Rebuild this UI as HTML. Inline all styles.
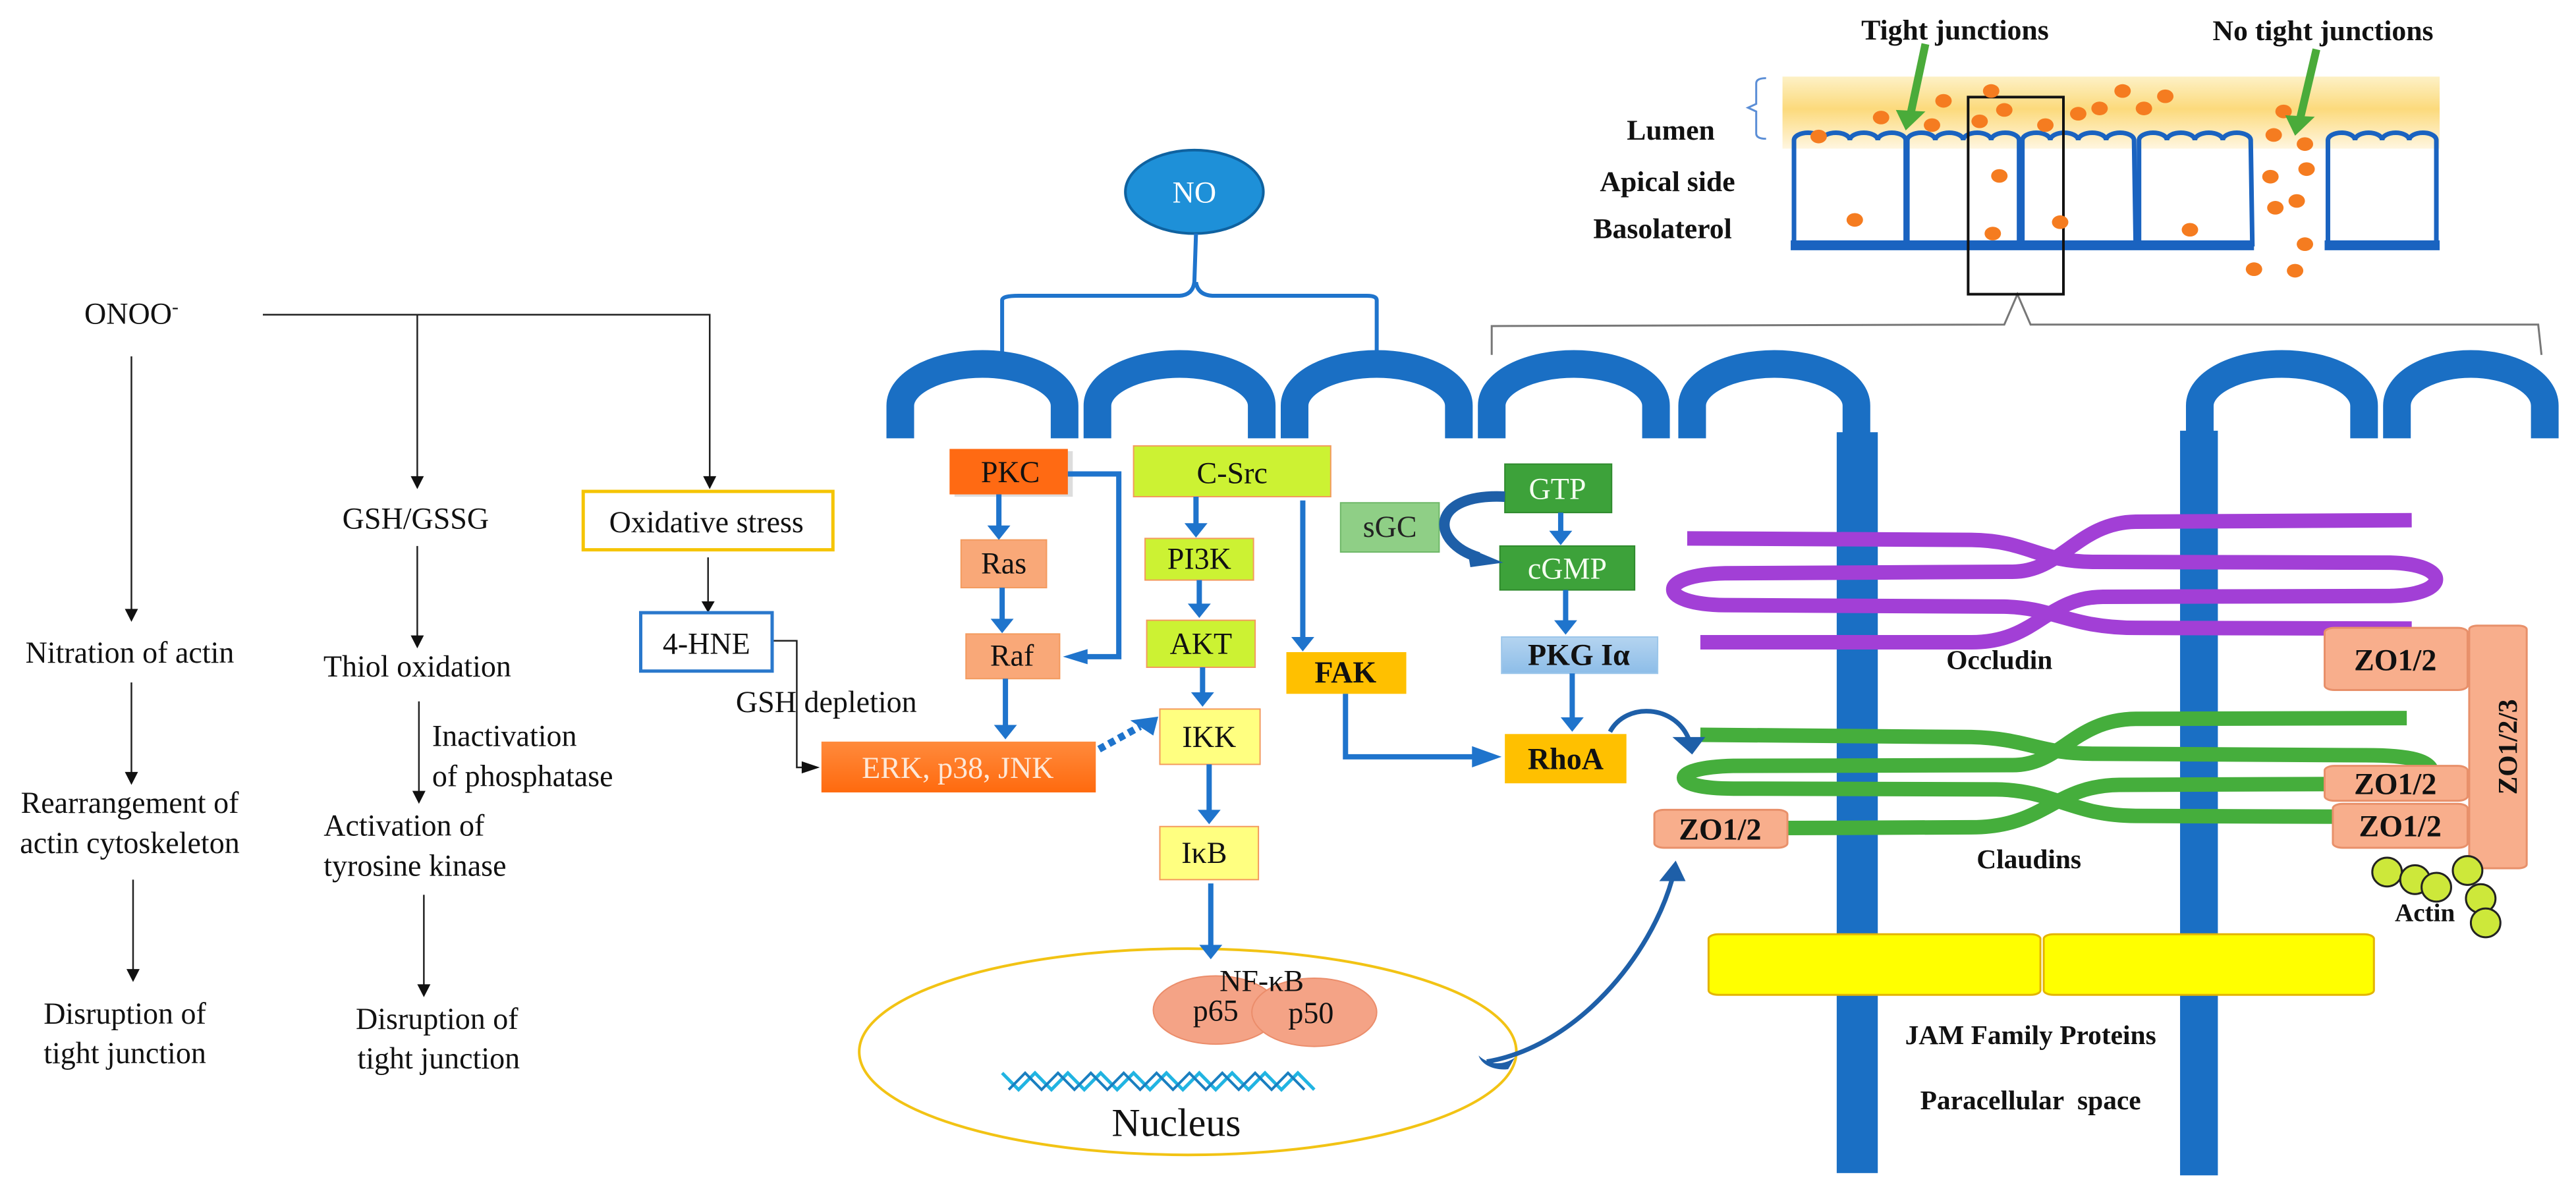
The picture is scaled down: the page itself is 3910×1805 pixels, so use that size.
<!DOCTYPE html>
<html><head><meta charset="utf-8"><style>
html,body{margin:0;padding:0;background:#fff;}
svg{display:block;}
svg text{font-family:"Liberation Serif","Times New Roman","DejaVu Serif",serif;fill:#111;}
.b{font-weight:bold;}
.th{stroke:#222;fill:none;stroke-width:2.5;}
.bl{stroke:#1f74cc;fill:none;stroke-width:8;}
.box{stroke:#f39a5e;stroke-width:2;}
</style></head><body>
<svg width="3910" height="1805" viewBox="0 0 1568 1568" preserveAspectRatio="none" xmlns="http://www.w3.org/2000/svg" font-family="Liberation Serif, Times New Roman, serif">
<defs>
<linearGradient id="lum" x1="0" y1="0" x2="0" y2="1">
<stop offset="0" stop-color="#fdf1c6"/><stop offset="0.45" stop-color="#fcda7c"/><stop offset="1" stop-color="#fff6e0"/>
</linearGradient>
<linearGradient id="erk" x1="0" y1="0" x2="0" y2="1">
<stop offset="0" stop-color="#ff8a3c"/><stop offset="1" stop-color="#ff6a0e"/>
</linearGradient>
<linearGradient id="pkg" x1="0" y1="0" x2="0" y2="1">
<stop offset="0" stop-color="#b4d4f0"/><stop offset="1" stop-color="#8dbde8"/>
</linearGradient>
</defs>
<g>
<g class="th">
<path vector-effect="non-scaling-stroke" d="M160,415 L432,415 L432,640"/>
<path vector-effect="non-scaling-stroke" d="M254,415 L254,630"/>
<path vector-effect="non-scaling-stroke" d="M80,470 L80,805"/>
<path vector-effect="non-scaling-stroke" d="M80,900 L80,1020"/>
<path vector-effect="non-scaling-stroke" d="M81,1160 L81,1280"/>
<path vector-effect="non-scaling-stroke" d="M254,720 L254,840"/>
<path vector-effect="non-scaling-stroke" d="M255,925 L255,1045"/>
<path vector-effect="non-scaling-stroke" d="M258,1180 L258,1300"/>
<path vector-effect="non-scaling-stroke" d="M431,735 L431,795"/>
<path vector-effect="non-scaling-stroke" d="M470,845 L485,845 L485,1012 L490,1012"/>
</g>
<g fill="#111">
<polygon points="428,628 436,628 432,645"/>
<polygon points="250,628 258,628 254,645"/>
<polygon points="76,803 84,803 80,820"/>
<polygon points="76,1018 84,1018 80,1035"/>
<polygon points="77,1278 85,1278 81,1295"/>
<polygon points="250,838 258,838 254,855"/>
<polygon points="251,1043 259,1043 255,1060"/>
<polygon points="254,1298 262,1298 258,1315"/>
<polygon points="427,793 435,793 431,808"/>
<polygon points="488,1004 488,1020 499,1012"/>
</g>
<rect x="355" y="648" width="152" height="77" fill="#fff" stroke="#f5c400" stroke-width="5" vector-effect="non-scaling-stroke"/>
<rect x="390" y="808" width="80" height="77" fill="#fff" stroke="#2a78cc" stroke-width="5" vector-effect="non-scaling-stroke"/>

<ellipse cx="727" cy="253" rx="42" ry="55" fill="#1e90d8" stroke="#0f62a0" stroke-width="4" vector-effect="non-scaling-stroke"/>
<path vector-effect="non-scaling-stroke" d="M610,470 L610,396 Q610,390 620,390 L718,390 Q726,389 727,372 L728,308 M728,372 Q729,389 738,390 L832,390 Q838,390 838,396 L838,470" stroke="#1f74cc" stroke-width="6" fill="none"/>
<path vector-effect="non-scaling-stroke" d="M908,468 L908,430 L1220,428 L1228,388 L1236,428 L1545,428 L1547,468" stroke="#777" stroke-width="3" fill="none"/>

<g stroke="#1a6fc4" stroke-width="42" fill="none">
<path vector-effect="non-scaling-stroke" d="M548,578 L548,535 A50,55 0 0 1 648,535 L648,578"/>
<path vector-effect="non-scaling-stroke" d="M668,578 L668,535 A50,55 0 0 1 768,535 L768,578"/>
<path vector-effect="non-scaling-stroke" d="M788,578 L788,535 A50,55 0 0 1 888,535 L888,578"/>
<path vector-effect="non-scaling-stroke" d="M908,578 L908,535 A50,55 0 0 1 1008,535 L1008,578"/>
<path vector-effect="non-scaling-stroke" d="M1030,578 L1030,535 A50,55 0 0 1 1130,535 L1130,578"/>
<path vector-effect="non-scaling-stroke" d="M1339,578 L1339,535 A50,55 0 0 1 1439,535 L1439,578"/>
<path vector-effect="non-scaling-stroke" d="M1459,578 L1459,535 A45,55 0 0 1 1549,535 L1549,578"/>
</g>
<rect x="1118" y="570" width="25" height="977" fill="#1a6fc4"/>
<rect x="1327" y="568" width="23" height="982" fill="#1a6fc4"/>

<rect x="1040" y="1232" width="202" height="80" rx="6" fill="#ffff00" stroke="#e3b400" stroke-width="3" vector-effect="non-scaling-stroke"/>
<rect x="1244" y="1232" width="201" height="80" rx="6" fill="#ffff00" stroke="#e3b400" stroke-width="3" vector-effect="non-scaling-stroke"/>

<g stroke="#a23fd6" stroke-width="22" fill="none">
<path vector-effect="non-scaling-stroke" d="M1027,710 L1200,712 C1235,713 1240,741 1275,741 L1455,742 C1492,744 1492,784 1455,786 L1280,787 C1245,788 1240,847 1200,847 L1035,847"/>
<path vector-effect="non-scaling-stroke" d="M1468,686 L1300,688 C1265,689 1255,754 1225,754 L1050,756 C1008,758 1008,797 1050,798 L1220,800 C1250,801 1260,828 1300,828 L1468,829"/>
</g>
<g stroke="#45ae3c" stroke-width="22" fill="none">
<path vector-effect="non-scaling-stroke" d="M1035,969 L1200,972 C1235,974 1240,994 1275,994 L1440,996 C1470,996 1478,1005 1480,1015"/>
<path vector-effect="non-scaling-stroke" d="M1420,1034 L1290,1035 C1250,1036 1245,1091 1200,1091 L1085,1092"/>
<path vector-effect="non-scaling-stroke" d="M1465,947 L1300,948 C1262,949 1255,1009 1225,1009 L1055,1010 C1015,1012 1015,1040 1055,1040 L1215,1041 C1250,1042 1262,1076 1300,1076 L1425,1077"/>
</g>

<g fill="#f8ae8c" stroke="#e8906a" stroke-width="3">
<rect vector-effect="non-scaling-stroke" x="1503" y="825" width="35" height="320" rx="5"/>
<rect vector-effect="non-scaling-stroke" x="1415" y="828" width="87" height="82" rx="6"/>
<rect vector-effect="non-scaling-stroke" x="1415" y="1010" width="87" height="46" rx="6"/>
<rect vector-effect="non-scaling-stroke" x="1420" y="1060" width="82" height="58" rx="6"/>
<rect vector-effect="non-scaling-stroke" x="1007" y="1068" width="81" height="50" rx="6"/>
</g>
<g fill="#cde83a" stroke="#222" stroke-width="3">
<ellipse vector-effect="non-scaling-stroke" cx="1453" cy="1150" rx="9" ry="19"/>
<ellipse vector-effect="non-scaling-stroke" cx="1470" cy="1160" rx="9" ry="19"/>
<ellipse vector-effect="non-scaling-stroke" cx="1483" cy="1170" rx="9" ry="19"/>
<ellipse vector-effect="non-scaling-stroke" cx="1502" cy="1148" rx="9" ry="19"/>
<ellipse vector-effect="non-scaling-stroke" cx="1510" cy="1185" rx="9" ry="19"/>
<ellipse vector-effect="non-scaling-stroke" cx="1513" cy="1217" rx="9" ry="19"/>
</g>

<ellipse cx="723" cy="1387" rx="200" ry="136" fill="none" stroke="#f2c314" stroke-width="4" vector-effect="non-scaling-stroke"/>
<ellipse cx="740" cy="1332" rx="38" ry="45" fill="#f4a386" stroke="#eb8d6b" stroke-width="2" vector-effect="non-scaling-stroke"/>
<ellipse cx="800" cy="1335" rx="38" ry="45" fill="#f4a386" stroke="#eb8d6b" stroke-width="2" vector-effect="non-scaling-stroke"/>
<polyline vector-effect="non-scaling-stroke" points="610,1415 620,1437 630,1415 640,1437 650,1415 660,1437 670,1415 680,1437 690,1415 700,1437 710,1415 720,1437 730,1415 740,1437 750,1415 760,1437 770,1415 780,1437 790,1415 800,1437" fill="none" stroke="#21b4e2" stroke-width="5"/>
<polyline vector-effect="non-scaling-stroke" points="614,1437 624,1415 634,1437 644,1415 654,1437 664,1415 674,1437 684,1415 694,1437 704,1415 714,1437 724,1415 734,1437 744,1415 754,1437 764,1415 774,1437 784,1415 794,1437" fill="none" stroke="#1a7fc0" stroke-width="4"/>

<rect x="581" y="595" width="72" height="60" fill="#bbb" opacity="0.5"/>
<rect x="578" y="592" width="72" height="60" fill="#ff6a13"/>
<rect class="box" vector-effect="non-scaling-stroke" x="690" y="588" width="120" height="67" fill="#ccf233"/>
<rect class="box" vector-effect="non-scaling-stroke" x="585" y="712" width="52" height="63" fill="#f9a878"/>
<rect class="box" vector-effect="non-scaling-stroke" x="588" y="836" width="57" height="59" fill="#f9a878"/>
<rect class="box" vector-effect="non-scaling-stroke" x="697" y="710" width="66" height="55" fill="#ccf233"/>
<rect class="box" vector-effect="non-scaling-stroke" x="698" y="818" width="66" height="62" fill="#ccf233"/>
<rect class="box" vector-effect="non-scaling-stroke" x="706" y="935" width="61" height="73" fill="#ffff80"/>
<rect class="box" vector-effect="non-scaling-stroke" x="706" y="1090" width="60" height="70" fill="#ffff80"/>
<rect x="500" y="978" width="167" height="67" fill="url(#erk)"/>
<rect x="783" y="860" width="73" height="55" fill="#ffc000"/>
<rect x="816" y="663" width="60" height="65" fill="#8fcf86" stroke="#6fb868" stroke-width="2" vector-effect="non-scaling-stroke"/>
<rect x="916" y="612" width="65" height="64" fill="#3da23a" stroke="#2f8a2d" stroke-width="2" vector-effect="non-scaling-stroke"/>
<rect x="913" y="720" width="82" height="58" fill="#3da23a" stroke="#2f8a2d" stroke-width="2" vector-effect="non-scaling-stroke"/>
<rect x="914" y="840" width="95" height="48" fill="url(#pkg)" stroke="#9cc6ea" stroke-width="2" vector-effect="non-scaling-stroke"/>
<rect x="916" y="968" width="74" height="65" fill="#ffc000"/>

<g class="bl">
<path vector-effect="non-scaling-stroke" d="M608,652 L608,695"/>
<path vector-effect="non-scaling-stroke" d="M610,775 L610,818"/>
<path vector-effect="non-scaling-stroke" d="M650,625 L681,625 L681,866 L660,866"/>
<path vector-effect="non-scaling-stroke" d="M612,895 L612,958"/>
<path vector-effect="non-scaling-stroke" d="M728,655 L728,692"/>
<path vector-effect="non-scaling-stroke" d="M730,765 L730,798"/>
<path vector-effect="non-scaling-stroke" d="M732,880 L732,915"/>
<path vector-effect="non-scaling-stroke" d="M736,1008 L736,1070"/>
<path vector-effect="non-scaling-stroke" d="M737,1165 L737,1248"/>
<path vector-effect="non-scaling-stroke" d="M793,660 L793,842"/>
<path vector-effect="non-scaling-stroke" d="M819,915 L819,998 L898,998"/>
<path vector-effect="non-scaling-stroke" d="M950,676 L950,702"/>
<path vector-effect="non-scaling-stroke" d="M953,778 L953,820"/>
<path vector-effect="non-scaling-stroke" d="M957,888 L957,948"/>
<path vector-effect="non-scaling-stroke" d="M669,988 L694,958" stroke-dasharray="10 7" stroke-width="11"/>
</g>
<g fill="#1f74cc">
<polygon points="601,693 615,693 608,712"/>
<polygon points="603,816 617,816 610,835"/>
<polygon points="662,856 662,876 647,866"/>
<polygon points="605,956 619,956 612,975"/>
<polygon points="721,690 735,690 728,709"/>
<polygon points="723,796 737,796 730,815"/>
<polygon points="725,913 739,913 732,932"/>
<polygon points="729,1068 743,1068 736,1087"/>
<polygon points="730,1246 744,1246 737,1265"/>
<polygon points="786,840 800,840 793,859"/>
<polygon points="896,984 896,1012 914,998"/>
<polygon points="943,700 957,700 950,719"/>
<polygon points="946,818 960,818 953,837"/>
<polygon points="950,946 964,946 957,965"/>
<polygon points="688,950 705,945 702,970"/>
</g>
<path vector-effect="non-scaling-stroke" d="M916,655 C870,650 870,715 900,735" stroke="#1e5fa8" stroke-width="16" fill="none"/>
<polygon points="893,722 915,742 895,748" fill="#1e5fa8"/>
<path vector-effect="non-scaling-stroke" d="M980,965 C990,925 1020,930 1028,975" stroke="#1e5fa8" stroke-width="7" fill="none"/>
<polygon points="1018,972 1038,972 1030,995" fill="#1e5fa8"/>
<path vector-effect="non-scaling-stroke" d="M905,1400 C960,1380 1005,1260 1018,1158" stroke="#1e5fa8" stroke-width="7" fill="none"/>
<path d="M900,1392 C906,1404 914,1406 922,1395 L918,1410 C910,1412 902,1405 900,1392 Z" fill="#1e5fa8"/>
<polygon points="1010,1162 1026,1162 1020,1135" fill="#1e5fa8"/>

<rect x="1085" y="101" width="400" height="95" fill="url(#lum)"/>
<path vector-effect="non-scaling-stroke" d="M1075,103 Q1069,103 1069,110 L1069,137 L1064,142 L1069,147 L1069,176 Q1069,183 1075,183" stroke="#5b8ed6" stroke-width="3" fill="none"/>
<g stroke="#1a63c0" stroke-width="7" fill="none">
<path vector-effect="non-scaling-stroke" d="M1092,325 L1092,185 a8.5,10 0 0 1 17,0 a8.5,10 0 0 1 17,0 a8.5,10 0 0 1 17,0 a8.5,10 0 0 1 17,0 L1160,325"/>
<path vector-effect="non-scaling-stroke" d="M1161,325 L1161,185 a8.5,10 0 0 1 17,0 a8.5,10 0 0 1 17,0 a8.5,10 0 0 1 17,0 a8.5,10 0 0 1 17,0 L1229,325"/>
<path vector-effect="non-scaling-stroke" d="M1231,325 L1231,185 a8.5,10 0 0 1 17,0 a8.5,10 0 0 1 17,0 a8.5,10 0 0 1 17,0 a8.5,10 0 0 1 17,0 L1300,325"/>
<path vector-effect="non-scaling-stroke" d="M1302,325 L1302,185 a8.5,10 0 0 1 17,0 a8.5,10 0 0 1 17,0 a8.5,10 0 0 1 17,0 a8.5,10 0 0 1 17,0 L1371,325"/>
<path vector-effect="non-scaling-stroke" d="M1417,325 L1417,185 a8.25,10 0 0 1 16.5,0 a8.25,10 0 0 1 16.5,0 a8.25,10 0 0 1 16.5,0 a8.25,10 0 0 1 16.5,0 L1483,325"/>
</g>
<rect x="1090" y="317" width="282" height="13" fill="#1a63c0"/>
<rect x="1415" y="317" width="70" height="13" fill="#1a63c0"/>
<rect x="1198" y="128" width="58" height="260" fill="none" stroke="#111" stroke-width="4" vector-effect="non-scaling-stroke"/>
<g fill="#f57c20">
<ellipse cx="1107" cy="180" rx="5" ry="9"/><ellipse cx="1145" cy="155" rx="5" ry="9"/><ellipse cx="1183" cy="133" rx="5" ry="9"/>
<ellipse cx="1212" cy="120" rx="5" ry="9"/><ellipse cx="1176" cy="165" rx="5" ry="9"/><ellipse cx="1205" cy="160" rx="5" ry="9"/>
<ellipse cx="1220" cy="145" rx="5" ry="9"/><ellipse cx="1245" cy="165" rx="5" ry="9"/><ellipse cx="1265" cy="150" rx="5" ry="9"/>
<ellipse cx="1278" cy="143" rx="5" ry="9"/><ellipse cx="1292" cy="120" rx="5" ry="9"/><ellipse cx="1305" cy="143" rx="5" ry="9"/>
<ellipse cx="1318" cy="127" rx="5" ry="9"/><ellipse cx="1390" cy="147" rx="5" ry="9"/><ellipse cx="1384" cy="178" rx="5" ry="9"/>
<ellipse cx="1403" cy="190" rx="5" ry="9"/><ellipse cx="1404" cy="223" rx="5" ry="9"/><ellipse cx="1382" cy="233" rx="5" ry="9"/>
<ellipse cx="1398" cy="265" rx="5" ry="9"/><ellipse cx="1385" cy="274" rx="5" ry="9"/><ellipse cx="1403" cy="322" rx="5" ry="9"/>
<ellipse cx="1372" cy="355" rx="5" ry="9"/><ellipse cx="1397" cy="357" rx="5" ry="9"/><ellipse cx="1217" cy="232" rx="5" ry="9"/>
<ellipse cx="1129" cy="290" rx="5" ry="9"/><ellipse cx="1213" cy="308" rx="5" ry="9"/><ellipse cx="1254" cy="293" rx="5" ry="9"/>
<ellipse cx="1333" cy="303" rx="5" ry="9"/>
</g>
<g stroke="#4aab3a" stroke-width="12" fill="none">
<path vector-effect="non-scaling-stroke" d="M1172,58 L1163,150"/>
<path vector-effect="non-scaling-stroke" d="M1410,65 L1400,157"/>
</g>
<polygon points="1154,145 1172,147 1160,172" fill="#4aab3a"/>
<polygon points="1391,152 1409,154 1397,179" fill="#4aab3a"/>
</g>

<g font-size="40" font-family="Liberation Serif, Times New Roman, serif">
<text transform="translate(80,427) scale(.4615,1)" text-anchor="middle">ONOO<tspan font-size="26" dy="-14">-</tspan></text>
<text transform="translate(79,874) scale(.4615,1)" text-anchor="middle">Nitration of actin</text>
<text transform="translate(79,1072) scale(.4615,1)" text-anchor="middle">Rearrangement of</text>
<text transform="translate(79,1125) scale(.4615,1)" text-anchor="middle">actin cytoskeleton</text>
<text transform="translate(76,1350) scale(.4615,1)" text-anchor="middle">Disruption of</text>
<text transform="translate(76,1402) scale(.4615,1)" text-anchor="middle">tight junction</text>
<text transform="translate(253,697) scale(.4615,1)" text-anchor="middle">GSH/GSSG</text>
<text transform="translate(254,892) scale(.4615,1)" text-anchor="middle">Thiol oxidation</text>
<text transform="translate(263,984) scale(.4615,1)">Inactivation</text>
<text transform="translate(263,1037) scale(.4615,1)">of phosphatase</text>
<text transform="translate(197,1102) scale(.4615,1)">Activation of</text>
<text transform="translate(197,1155) scale(.4615,1)">tyrosine kinase</text>
<text transform="translate(266,1357) scale(.4615,1)" text-anchor="middle">Disruption of</text>
<text transform="translate(267,1409) scale(.4615,1)" text-anchor="middle">tight junction</text>
<text transform="translate(430,702) scale(.4615,1)" text-anchor="middle">Oxidative stress</text>
<text transform="translate(430,862) scale(.4615,1)" text-anchor="middle">4-HNE</text>
<text transform="translate(503,939) scale(.4615,1)" text-anchor="middle">GSH depletion</text>
<text transform="translate(727,267) scale(.4615,1)" text-anchor="middle" style="fill:#fff">NO</text>
<text transform="translate(615,636) scale(.4615,1)" text-anchor="middle">PKC</text>
<text transform="translate(750,637) scale(.4615,1)" text-anchor="middle">C-Src</text>
<text transform="translate(611,756) scale(.4615,1)" text-anchor="middle">Ras</text>
<text transform="translate(616,878) scale(.4615,1)" text-anchor="middle">Raf</text>
<text transform="translate(730,750) scale(.4615,1)" text-anchor="middle">PI3K</text>
<text transform="translate(731,862) scale(.4615,1)" text-anchor="middle">AKT</text>
<text transform="translate(736,985) scale(.4615,1)" text-anchor="middle">IKK</text>
<text transform="translate(733,1138) scale(.4615,1)" text-anchor="middle">IκB</text>
<text transform="translate(583,1026) scale(.4615,1)" text-anchor="middle" style="fill:#fde8d8">ERK, p38, JNK</text>
<text transform="translate(819,900) scale(.4615,1)" text-anchor="middle" class="b">FAK</text>
<text transform="translate(846,708) scale(.4615,1)" text-anchor="middle" style="fill:#222">sGC</text>
<text transform="translate(948,658) scale(.4615,1)" text-anchor="middle" style="fill:#f4fff0">GTP</text>
<text transform="translate(954,763) scale(.4615,1)" text-anchor="middle" style="fill:#f4fff0">cGMP</text>
<text transform="translate(961,877) scale(.4615,1)" text-anchor="middle" class="b">PKG Iα</text>
<text transform="translate(953,1014) scale(.4615,1)" text-anchor="middle" class="b">RhoA</text>
<text transform="translate(1047,1107) scale(.4615,1)" text-anchor="middle" class="b">ZO1/2</text>
<text transform="translate(1458,884) scale(.4615,1)" text-anchor="middle" class="b">ZO1/2</text>
<text transform="translate(1458,1047) scale(.4615,1)" text-anchor="middle" class="b">ZO1/2</text>
<text transform="translate(1461,1103) scale(.4615,1)" text-anchor="middle" class="b">ZO1/2</text>
<text transform="translate(1532,985) scale(.4615,1) rotate(-90)" text-anchor="middle" class="b" font-size="36">ZO1/2/3</text>
<text transform="translate(1217,882) scale(.4615,1)" text-anchor="middle" class="b" font-size="36">Occludin</text>
<text transform="translate(1235,1145) scale(.4615,1)" text-anchor="middle" class="b" font-size="36">Claudins</text>
<text transform="translate(1476,1215) scale(.4615,1)" text-anchor="middle" class="b" font-size="34">Actin</text>
<text transform="translate(1236,1377) scale(.4615,1)" text-anchor="middle" class="b" font-size="36">JAM Family Proteins</text>
<text transform="translate(1236,1463) scale(.4615,1)" text-anchor="middle" class="b" font-size="36" style="white-space:pre">Paracellular  space</text>
<text transform="translate(768,1307) scale(.4615,1)" text-anchor="middle">NF-κB</text>
<text transform="translate(740,1346) scale(.4615,1)" text-anchor="middle">p65</text>
<text transform="translate(798,1349) scale(.4615,1)" text-anchor="middle">p50</text>
<text transform="translate(716,1498) scale(.4615,1)" text-anchor="middle" font-size="52">Nucleus</text>
<text transform="translate(1190,52) scale(.4615,1)" text-anchor="middle" class="b" font-size="38">Tight junctions</text>
<text transform="translate(1414,53) scale(.4615,1)" text-anchor="middle" class="b" font-size="38">No tight junctions</text>
<text transform="translate(1017,184) scale(.4615,1)" text-anchor="middle" class="b" font-size="38">Lumen</text>
<text transform="translate(1015,252) scale(.4615,1)" text-anchor="middle" class="b" font-size="38">Apical side</text>
<text transform="translate(1012,314) scale(.4615,1)" text-anchor="middle" class="b" font-size="38">Basolaterol</text>
</g>
</svg>
</body></html>
